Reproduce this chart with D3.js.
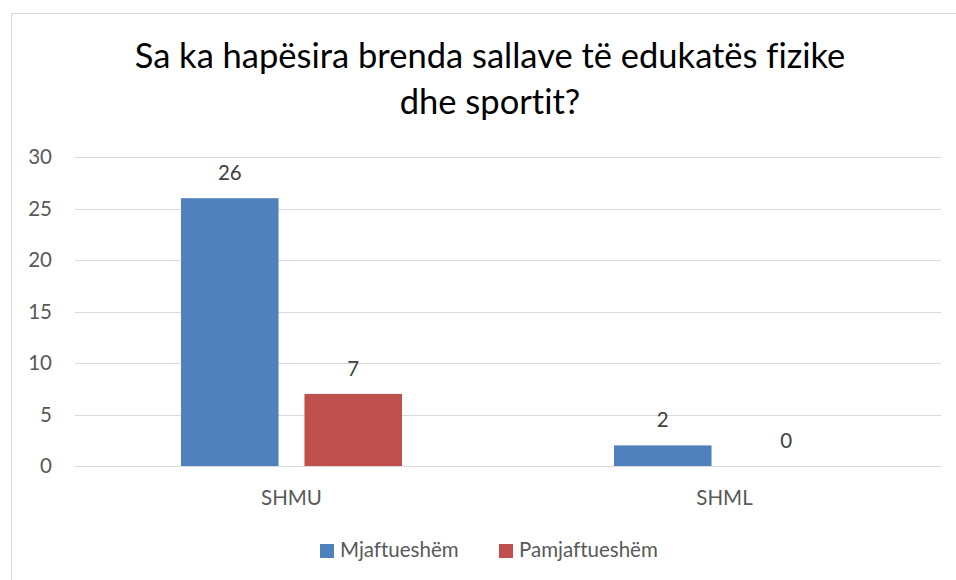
<!DOCTYPE html>
<html><head><meta charset="utf-8">
<script src="https://cdn.jsdelivr.net/npm/d3@7"></script>
<style>body{margin:0;background:#fff;} svg{display:block;font-family:Lato, "Open Sans", sans-serif;font-variant-ligatures:none;}</style>
</head><body>
<svg id="c" width="956" height="580"></svg>
<script>
const categories = ["SHMU", "SHML"];
const seriesNames = ["Mjaftueshëm", "Pamjaftueshëm"];
const mjaftueshem = [26, 2];
const pamjaftueshem = [7, 0];
const yTicks = [0, 5, 10, 15, 20, 25, 30];
const titleLines = ["Sa ka hapësira brenda sallave të edukatës fizike", "dhe sportit?"];
const colors = ["#4f81bd", "#c0504d"];

(function () {
const svg = d3.select("#c");
svg.append("rect").attr("x", 11.5).attr("y", 13.5).attr("width", 960).attr("height", 600)
  .attr("fill", "#fff").attr("stroke", "#d9d9d9").attr("stroke-width", 1);

const pL = 75, pR = 941, pT = 157, pB = 466;
const fs = 20.5;
const y = d3.scaleLinear().domain([0, 30]).range([pB, pT]);
const x0 = d3.scaleBand().domain(categories).range([pL, pR]).paddingInner(0).paddingOuter(0);
const x1 = d3.scaleBand().domain(seriesNames).range([106, x0.bandwidth() - 106]).paddingInner(0.21);

svg.append("g").selectAll("line").data(yTicks).join("line")
  .attr("x1", pL).attr("x2", pR)
  .attr("y1", d => Math.round(y(d)) + 0.5).attr("y2", d => Math.round(y(d)) + 0.5)
  .attr("stroke", "#d9d9d9").attr("stroke-width", 1);

const yAxis = d3.axisLeft(y).tickValues(yTicks).tickSize(0).tickPadding(0);
const ga = svg.append("g").attr("transform", `translate(52,0)`).call(yAxis);
ga.select(".domain").remove();
ga.selectAll("text").attr("font-size", fs).attr("fill", "#595959").attr("font-family", "Lato, sans-serif");

const data = categories.map((c, i) => ({cat: c, vals: [
  {s: seriesNames[0], v: mjaftueshem[i], c: colors[0]},
  {s: seriesNames[1], v: pamjaftueshem[i], c: colors[1]}
]}));
const g = svg.append("g").selectAll("g").data(data).join("g")
  .attr("transform", d => `translate(${x0(d.cat)},0)`);
g.selectAll("rect").data(d => d.vals).join("rect")
  .attr("x", d => x1(d.s)).attr("width", x1.bandwidth())
  .attr("y", d => y(d.v)).attr("height", d => y(0) - y(d.v))
  .attr("fill", d => d.c);
g.selectAll("text").data(d => d.vals).join("text")
  .attr("x", d => x1(d.s) + x1.bandwidth() / 2)
  .attr("y", d => y(d.v) - 18)
  .attr("text-anchor", "middle").attr("font-size", fs).attr("fill", "#404040")
  .text(d => d.v);

const xAxis = d3.axisBottom(x0).tickSize(0).tickPadding(0);
const gx = svg.append("g").attr("transform", `translate(0,${pB + 39})`).call(xAxis);
gx.select(".domain").remove();
gx.selectAll("text").attr("font-size", fs).attr("fill", "#595959").attr("font-family", "Lato, sans-serif").attr("dy", 0);

const t = svg.append("text").attr("text-anchor", "middle").attr("fill", "#000").attr("font-size", 34.5);
t.selectAll("tspan").data(titleLines).join("tspan")
  .attr("x", 490).attr("y", (d, i) => 68 + i * 46).text(d => d);

const leg = svg.append("g");
const legX = [320, 499];
seriesNames.forEach((s, i) => {
  leg.append("rect").attr("x", legX[i]).attr("y", 544).attr("width", 14).attr("height", 14).attr("fill", colors[i]);
  leg.append("text").attr("x", legX[i] + 20).attr("y", 557).attr("font-size", fs).attr("fill", "#595959").text(s);
});
})();
</script>
</body></html>
